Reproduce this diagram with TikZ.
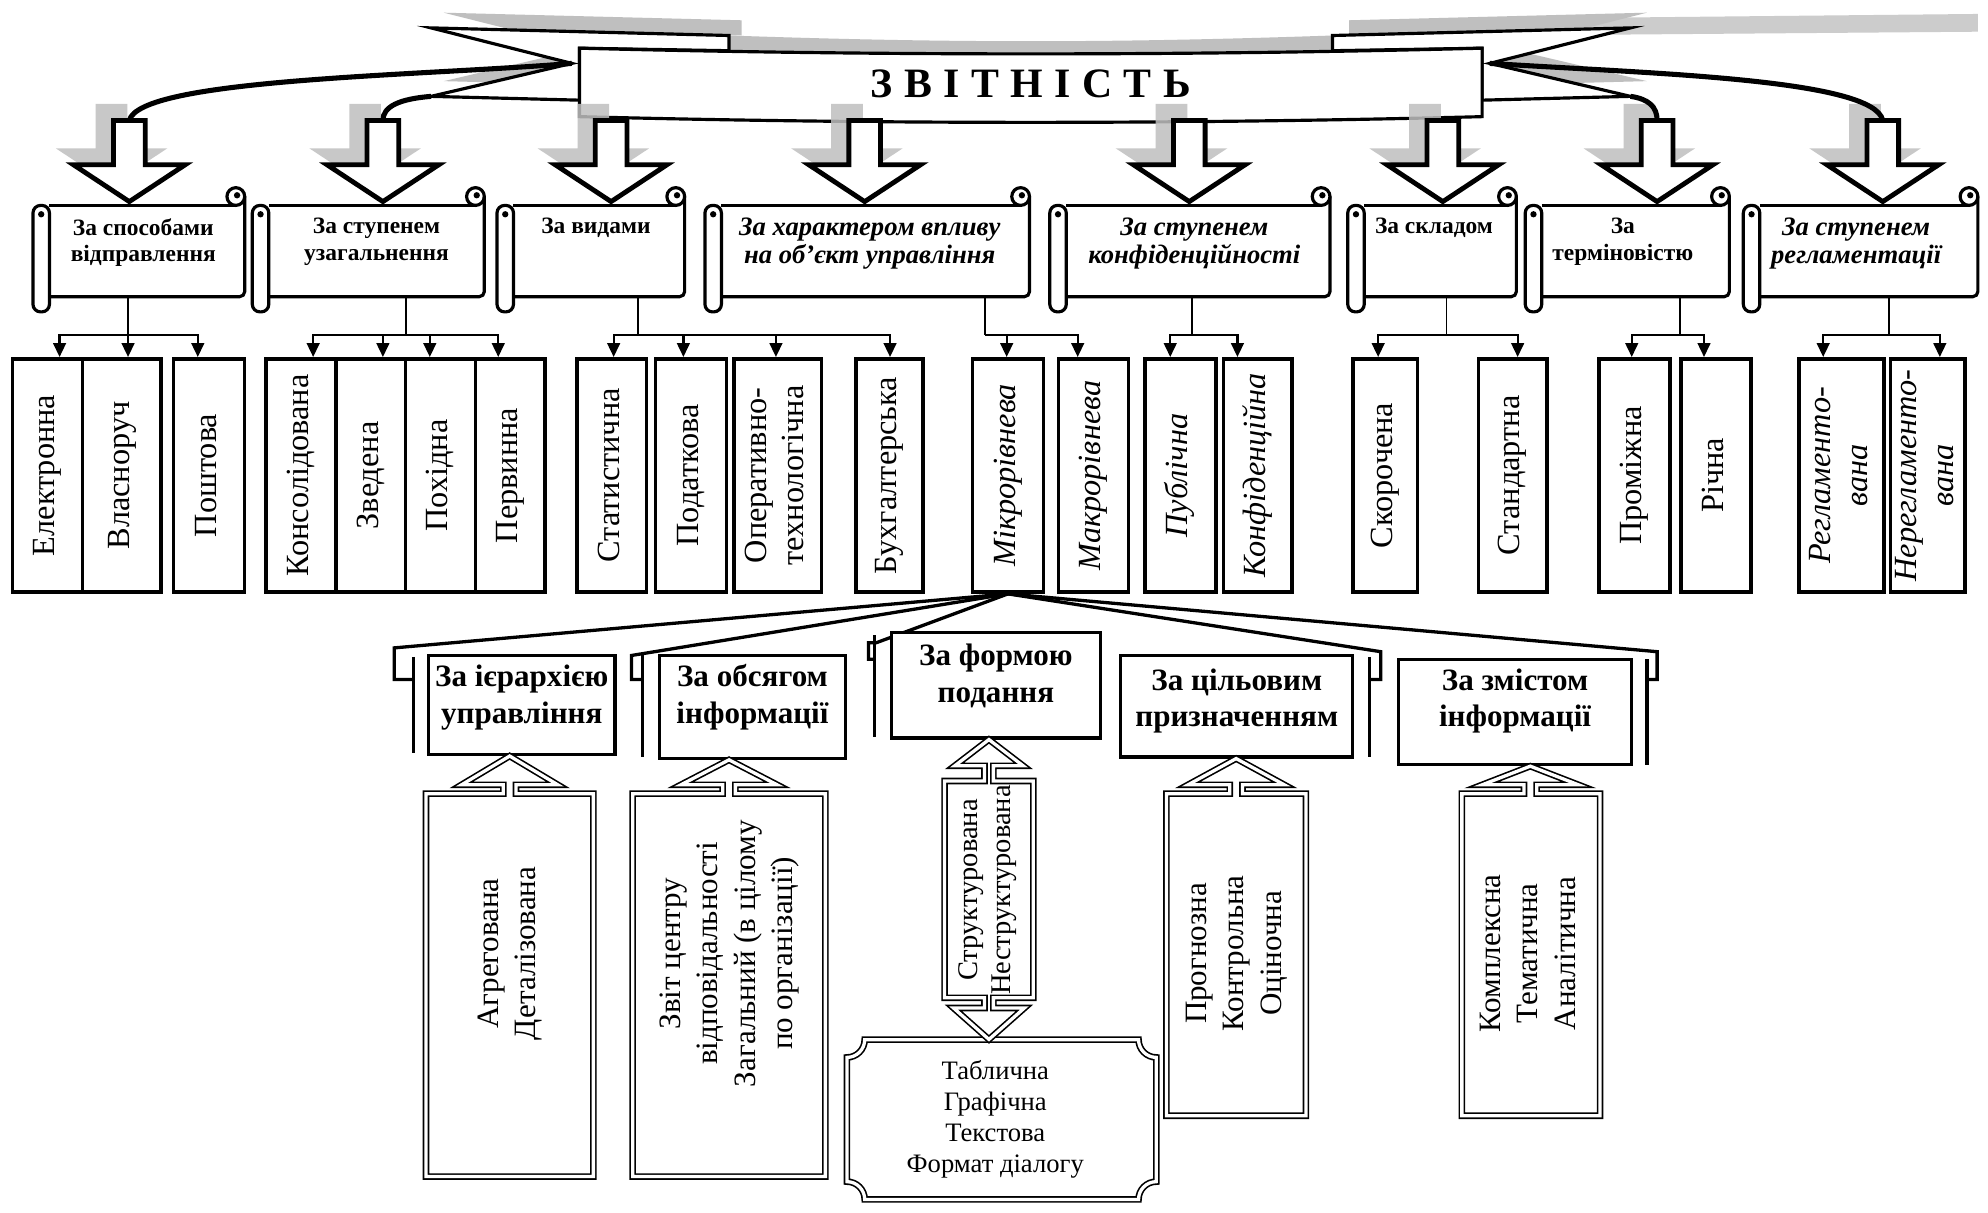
\documentclass[tikz,border=0pt]{standalone}
\usepackage{fontspec}
\setmainfont{Liberation Serif}
\usetikzlibrary{arrows.meta,calc}

\newcommand\vtext[1]{\rotatebox{90}{\begin{tabular}{@{}c@{}}#1\end{tabular}}}
\newcommand\titlegap{\kern9pt}

% scroll frame: roll left, top, bottom
\newcommand\scrollframe[4]{%
  \draw[scrl,rounded corners=4pt] ({#1+13},#4) -- (#2,#4) -- (#2,{#3-7});
  \draw[scrl] ({#1+13},#3) -- ({#2-7},#3);
  \draw[scrl] ({#2-7},{#3-7}) circle[radius=7];
  \fill ({#2-6},{#3-8}) circle[radius=2.5];
  \draw[scrl,rounded corners=6pt] (#1,#3) rectangle ({#1+13},{#4+12});
  \fill ({#1+6.5},{#3+7}) circle[radius=2.5];}

% double frame with arrow up to a node
\newcommand\upbox[6]{%
  \draw[dbl] ({#5-5},#3) -- (#1,#3) -- (#1,#4) -- (#2,#4) -- (#2,#3) -- ({#5+5},#3)
    -- ({#5+5},{#3-7}) -- ({#5+38},{#3-7}) -- (#5,0 |- #6.south)
    -- ({#5-38},{#3-7}) -- ({#5-5},{#3-7}) -- cycle;}

\begin{document}
\begin{tikzpicture}[x=1pt,y=-1pt,line join=miter,
  rshade/.style={fill=gray!50},
  ribbon/.style={draw,line width=2.5pt,fill=white},
  ashade/.style={fill=gray!50,opacity=0.85},
  bigarr/.style={draw,line width=3.8pt,fill=white},
  curv/.style={line width=4pt},
  scrl/.style={line width=2.5pt},
  sctext/.style={font=\bfseries\fontsize{18.5}{21}\selectfont,align=center,anchor=north,inner sep=0pt},
  sctexti/.style={sctext,font=\bfseries\itshape\fontsize{21}{21.5}\selectfont},
  vbox/.style={draw,line width=2.8pt,inner sep=0pt,minimum height=184pt,font=\fontsize{25.5}{29}\selectfont},
  vboxi/.style={vbox,font=\itshape\fontsize{25.5}{29}\selectfont},
  stem/.style={line width=1.3pt},
  fan/.style={line width=1.8pt,-{Triangle[length=11pt,width=10pt]}},
  fanb/.style={line width=2.6pt},
  catbox/.style={draw,line width=2.6pt,fill=white,inner sep=0pt},
  cattext/.style={font=\bfseries\fontsize{24.5}{29}\selectfont,align=center,inner sep=0pt},
  dbl/.style={draw,line width=1.3pt,double,double distance=2.6pt},
  btext/.style={font=\fontsize{24.5}{29.5}\selectfont,inner sep=0pt}]
\fill[white] (0,0) rectangle (1568,956);
\useasboundingbox (0,0) rectangle (1568,956);

% ribbon
\fill[rshade] (350,10) -- (585,16) -- (585,28) -- (467,26) -- (467,67) -- (350,64) -- (461,38) -- cycle;
\fill[gray!40] (1064,16) -- (1560,11) -- (1560,25) -- (1064,29) -- cycle;
\fill[rshade] (1299,10) -- (1064,16) -- (1064,28) -- (1182,26) -- (1182,67) -- (1299,64) -- (1188,38) -- cycle;
\fill[rshade] (575,28) .. controls (750,34) and (876,34) .. (1051,28) -- (1051,46) -- (575,46) -- cycle;
\draw[ribbon] (340,22) -- (575,28) -- (575,40) -- (457,38) -- (457,79) -- (340,76) -- (451,50) -- cycle;
\draw[ribbon] (1286,22) -- (1051,28) -- (1051,40) -- (1169,38) -- (1169,79) -- (1286,76) -- (1175,50) -- cycle;
\draw[ribbon] (457,38) .. controls (690,44) and (936,44) .. (1169,38) -- (1169,92)
  .. controls (936,98) and (690,98) .. (457,92) -- cycle;
\node[font=\bfseries\fontsize{33}{33}\selectfont] (title) at (813,66)
  {З\titlegap В\titlegap І\titlegap Т\titlegap Н\titlegap І\titlegap С\titlegap Т\titlegap Ь};

% arrows
\foreach \x in {102,302,482,682,938,1138,1307,1485}
  \fill[ashade] ({\x-26.5},82) -- ({\x-1.5},82) -- ({\x-1.5},117) -- ({\x+30},117)
    -- ({\x-14},146) -- ({\x-58},117) -- ({\x-26.5},117) -- cycle;
\draw[curv] (451,50) .. controls (330,60) and (110,62) .. (102,95);
\draw[curv] (340,76) .. controls (315,78) and (302,84) .. (302,95);
\draw[curv] (1286,76) .. controls (1300,78) and (1307,84) .. (1307,95);
\draw[curv] (1175,50) .. controls (1300,58) and (1478,62) .. (1485,95);
\foreach \x in {102,302,482,682,938,1138,1307,1485}
  \draw[bigarr] ({\x-12.5},95) -- ({\x+12.5},95) -- ({\x+12.5},130) -- ({\x+44},130)
    -- (\x,159) -- ({\x-44},130) -- ({\x-12.5},130) -- cycle;

% scrolls
\scrollframe{26}{193}{162}{234}
\scrollframe{199}{382}{162}{234}
\scrollframe{392}{540}{162}{234}
\scrollframe{556}{812}{162}{234}
\scrollframe{828}{1049}{162}{234}
\scrollframe{1063}{1196}{162}{234}
\scrollframe{1203}{1364}{162}{234}
\scrollframe{1375}{1560}{162}{234}
\node[sctext] (sc1) at (113,172) {За способами\\відправлення};
\node[sctext] (sc2) at (297,172) {За ступенем\\узагальнення};
\node[sctext] (sc3) at (470,172) {За видами};
\node[sctexti] (sc4) at (686,172) {За характером впливу\\на об’єкт управління};
\node[sctexti] (sc5) at (942,172) {За ступенем\\конфіденційності};
\node[sctext] (sc6) at (1131,172) {За складом};
\node[sctext] (sc7) at (1280,172) {За\\терміновістю};
\node[sctexti] (sc8) at (1464,172) {За ступенем\\регламентації};

% second row
\node[vbox, minimum width=55pt] (e1) at (37.5,375) {\vtext{Електронна}};
\node[vbox, minimum width=62pt] (e2) at (96,375) {\vtext{Власноруч}};
\node[vbox, minimum width=56pt] (e3) at (165,375) {\vtext{Поштова}};
\node[vbox, minimum width=55pt] (g1) at (237.5,375) {\vtext{Консолідована}};
\node[vbox, minimum width=55pt] (g2) at (292.5,375) {\vtext{Зведена}};
\node[vbox, minimum width=55pt] (g3) at (347.5,375) {\vtext{Похідна}};
\node[vbox, minimum width=55pt] (g4) at (402.5,375) {\vtext{Первинна}};
\node[vbox, minimum width=55pt] (v1) at (482.5,375) {\vtext{Статистична}};
\node[vbox, minimum width=56pt] (v2) at (545,375) {\vtext{Податкова}};
\node[vbox, minimum width=69pt] (v3) at (613.5,375) {\vtext{Оперативно-\\технологічна}};
\node[vbox, minimum width=53pt] (v4) at (701.5,375) {\vtext{Бухгалтерська}};
\node[vboxi, minimum width=56pt] (h1) at (795,375) {\vtext{Мікрорівнева}};
\node[vboxi, minimum width=55pt] (h2) at (862.5,375) {\vtext{Макрорівнева}};
\node[vboxi, minimum width=56pt] (k1) at (931,375) {\vtext{Публічна}};
\node[vboxi, minimum width=54pt] (k2) at (992,375) {\vtext{Конфіденційна}};
\node[vbox, minimum width=51pt] (s1) at (1092.5,375) {\vtext{Скорочена}};
\node[vbox, minimum width=54pt] (s2) at (1193,375) {\vtext{Стандартна}};
\node[vbox, minimum width=56pt] (t1) at (1289,375) {\vtext{Проміжна}};
\node[vbox, minimum width=55pt] (t2) at (1353.5,375) {\vtext{Річна}};
\node[vboxi, minimum width=67pt] (r1) at (1452.5,375) {\vtext{Регламенто-\\вана}};
\node[vboxi, minimum width=59pt] (r2) at (1520.5,375) {\vtext{Нерегламенто-\\вана}};

\coordinate (f1) at (101,264);  \draw[stem] (101,234) -- (f1);
\coordinate (f2) at (320,264);  \draw[stem] (320,234) -- (f2);
\coordinate (f3) at (503,264);  \draw[stem] (503,234) -- (f3);
\coordinate (f4) at (777,264);  \draw[stem] (777,234) -- (f4);
\coordinate (f5) at (940,264);  \draw[stem] (940,234) -- (f5);
\coordinate (f6) at (1141,264); \draw[stem] (1141,234) -- (f6);
\coordinate (f7) at (1325,264); \draw[stem] (1325,234) -- (f7);
\coordinate (f8) at (1490,264); \draw[stem] (1490,234) -- (f8);
\foreach \n/\x in {e1/47,e2/101,e3/156} \draw[fan] (f1) -| (\x,0 |- \n.north);
\foreach \n/\x in {g1/247,g2/302,g3/339,g4/393} \draw[fan] (f2) -| (\x,0 |- \n.north);
\foreach \n/\x in {v1/484,v2/539,v3/612,v4/702} \draw[fan] (f3) -| (\x,0 |- \n.north);
\foreach \n/\x in {h1/794,h2/850} \draw[fan] (f4) -| (\x,0 |- \n.north);
\foreach \n/\x in {k1/923,k2/976} \draw[fan] (f5) -| (\x,0 |- \n.north);
\foreach \n/\x in {s1/1087,s2/1197} \draw[fan] (f6) -| (\x,0 |- \n.north);
\foreach \n/\x in {t1/1287,t2/1344} \draw[fan] (f7) -| (\x,0 |- \n.north);
\foreach \n/\x in {r1/1438,r2/1530} \draw[fan] (f8) -| (\x,0 |- \n.north);

% lines from Мікрорівнева
\draw[fanb] (h1.south) -- (311,511) -- (311,536) -- (326,536);
\draw[fanb] (326,518) -- (326,594);
\draw[fanb] (h1.south) -- (498,517) -- (498,536) -- (507,536);
\draw[fanb] (507,517) -- (507,597);
\draw[fanb] (h1.south) -- (691,507) -- (685,507) -- (685,520) -- (690,520);
\draw[fanb] (690,501) -- (690,581);
\draw[fanb] (h1.south) -- (1089,514) -- (1089,536) -- (1080,536);
\draw[fanb] (1080,518) -- (1080,597);
\draw[fanb] (h1.south) -- (1307,514) -- (1307,536) -- (1299,536);
\draw[fanb] (1299,520) -- (1299,603);

\node[catbox, minimum width=147pt, minimum height=78pt] (c1) at (411.5,556) {};
\node[catbox, minimum width=147pt, minimum height=81pt] (c2) at (593.5,557.5) {};
\node[catbox, minimum width=165pt, minimum height=83pt] (c3) at (785.5,540.5) {};
\node[catbox, minimum width=183pt, minimum height=80pt] (c4) at (975.5,557) {};
\node[catbox, minimum width=184pt, minimum height=83pt] (c5) at (1195,561.5) {};
\node[cattext] (c1t) at (411.5,550) {За ієрархією\\управління};
\node[cattext] (c2t) at (593.5,550) {За обсягом\\інформації};
\node[cattext] (c3t) at (785.5,533) {За формою\\подання};
\node[cattext] (c4t) at (975.5,553) {За цільовим\\призначенням};
\node[cattext] (c5t) at (1195,553) {За змістом\\інформації};

% bottom boxes
\upbox{336}{468}{626}{928}{402}{c1}
\upbox{499}{651}{626}{928}{575}{c2}
\upbox{920}{1030}{626}{880}{975}{c4}
\upbox{1153}{1262}{626}{880}{1207}{c5}
\node[btext] (b1) at (402,752) {\vtext{Агрегована\\Деталізована}};
\node[btext] (b2) at (575,752) {\vtext{Звіт центру\\відповідальності\\Загальний (в цілому\\по організації)}};
\node[btext] (b4) at (975,752) {\vtext{Прогнозна\\Контрольна\\Оціночна}};
\node[btext] (b5) at (1207,752) {\vtext{Комплексна\\Тематична\\Аналітична}};

\node[font=\fontsize{21}{24.5}\selectfont, align=center, inner sep=0pt,
  minimum width=244pt, minimum height=126pt] (tb) at (785,883)
  {Таблична\\Графічна\\Текстова\\Формат діалогу};
\draw[dbl] (668,834) arc[start angle=90, end angle=0, radius=14] -- (898,820)
  arc[start angle=180, end angle=90, radius=14] -- (912,932)
  arc[start angle=270, end angle=180, radius=14] -- (682,946)
  arc[start angle=360, end angle=270, radius=14] -- cycle;
\draw[dbl] (776.5,616) -- (745,616) -- (745,787) -- (776.5,787) -- (776.5,795) -- (752,795)
  -- (780,0 |- tb.north) -- (808,795) -- (783.5,795) -- (783.5,787) -- (815,787)
  -- (815,616) -- (783.5,616) -- (783.5,604) -- (807,604) -- (780,0 |- c3.south)
  -- (753,604) -- (776.5,604) -- cycle;
\node[font=\fontsize{22.5}{26}\selectfont, inner sep=0pt] (b3) at (779,702)
  {\vtext{Структурована\\Неструктурована}};
\end{tikzpicture}
\end{document}
